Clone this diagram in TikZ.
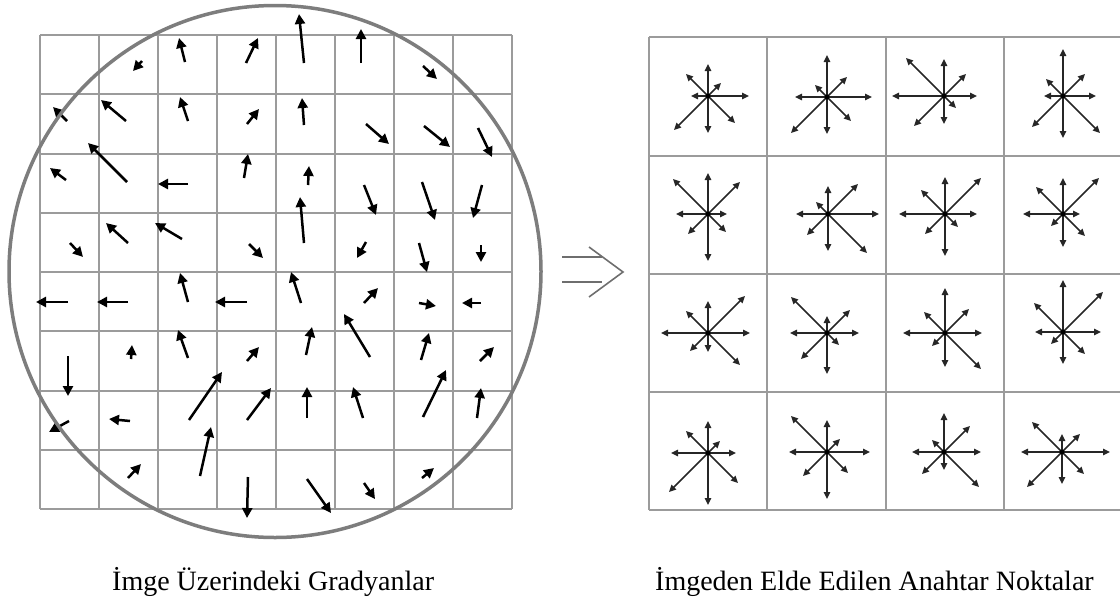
\documentclass[tikz,border=0pt]{standalone}
\usepackage{fontspec}
\setmainfont{Liberation Serif}
\usetikzlibrary{arrows.meta}
\definecolor{gridgray}{RGB}{155,155,155}
\definecolor{circgray}{RGB}{125,125,125}
\definecolor{implgray}{RGB}{110,110,110}
\tikzset{
  gridline/.style={draw=gridgray,line width=2pt},
  circline/.style={draw=circgray,line width=3.5pt},
  grad/.style={draw=black,line width=2.5pt,-{Triangle[length=10pt,width=10pt]}},
  starray/.style={draw=black!85,line width=1.5pt,-{Triangle[length=7pt,width=6.5pt]}},
  impl/.style={draw=implgray,line width=1.6pt},
  caption/.style={font=\fontsize{28}{32}\selectfont,anchor=base west,inner sep=0pt}
}
\newcommand\kpstar[9]{%
  \begin{scope}[shift={#1}]
    \draw[starray] (0,0) -- (#2,0);
    \draw[starray] (0,0) -- (#3,-#3);
    \draw[starray] (0,0) -- (0,-#4);
    \draw[starray] (0,0) -- (-#5,-#5);
    \draw[starray] (0,0) -- (-#6,0);
    \draw[starray] (0,0) -- (-#7,#7);
    \draw[starray] (0,0) -- (0,#8);
    \draw[starray] (0,0) -- (#9,#9);
    \fill[black] (0,0) circle (2.4pt);
  \end{scope}}
\begin{document}
\begin{tikzpicture}[x=1pt,y=-1pt]
\useasboundingbox (0,0) rectangle (1120,603);
% left grid
\foreach \i in {0,...,8}{
  \draw[gridline] ({40+\i*59},35) -- ({40+\i*59},509);
  \draw[gridline] (40,{35+\i*59.25}) -- (512,{35+\i*59.25});
}
% gradient arrows
\foreach \xa/\ya/\xb/\yb in {
 142/61/133/71, 185/62/179/38, 246/63/258/38, 304/63/299/14, 361/63/361/29, 423/66/437/79,
 67/121/53/107, 126/121/101/100, 188/121/180/97, 247/124/259/109, 304/125/302/98, 366/124/389/144, 424/126/450/147, 478/128/492/157,
 66/180/50/168, 127/182/88/143, 188/184/158/184, 244/178/248/154, 308/185/309/166, 364/185/376/215, 422/182/435/220, 482/185/473/218,
 70/243/83/257, 128/243/106/223, 182/239/155/223, 249/244/263/258, 304/243/300/197, 366/242/357/258, 419/243/427/272, 481/245/481/262,
 68/302/36/302, 128/302/97/302, 188/302/180/273, 247/302/215/302, 301/303/291/272, 364/303/378/288, 419/303/436/306, 481/303/462/303,
 68/356/68/396, 131/359/132/345, 188/358/178/330, 247/361/259/347, 306/355/312/327, 370/357/344/314, 421/360/429/333, 480/361/494/347,
 69/421/49/432, 130/421/109/419, 189/420/222/372, 247/420/271/388, 307/418/307/387, 363/418/353/387, 423/417/446/370, 477/418/481/388,
 128/478/141/464, 200/476/211/427, 248/477/247/518, 307/479/331/513, 364/483/375/499, 422/478/434/468}{
  \draw[grad] (\xa,\ya) -- (\xb,\yb);
}
% circle
\draw[circline] (275,271.5) circle (266pt);
% implication arrow
\draw[impl] (562,257) -- (602,257);
\draw[impl] (562,282) -- (602,282);
\draw[impl] (589,247) -- (623,272) -- (589,297);
% right grid
\foreach \xx in {649,767,886,1004,1121}{
  \draw[gridline] (\xx,37) -- (\xx,510);
}
\foreach \yy in {37,156,274,392,510}{
  \draw[gridline] (649,\yy) -- (1121,\yy);
}
% keypoint stars: center, E, NE, N, NW, W, SW, S, SE
\kpstar{(708,96)}{41}{13}{32}{22}{17}{34}{37}{27}
\kpstar{(827,97)}{45}{20}{42}{12}{32}{36}{37}{24}
\kpstar{(944,96)}{33}{22}{37}{38}{52}{30}{28}{12}
\kpstar{(1063,96)}{33}{22}{47}{17}{19}{31}{42}{37}
\kpstar{(708,214)}{19}{32}{41}{35}{32}{20}{47}{18}
\kpstar{(828,214)}{51}{30}{28}{12}{32}{21}{37}{39}
\kpstar{(945,214)}{32}{36}{37}{24}{46}{20}{42}{13}
\kpstar{(1063,214)}{17}{36}{36}{27}{40}{12}{33}{22}
\kpstar{(708,333)}{42}{37}{32}{22}{47}{18}{19}{32}
\kpstar{(827,333)}{32}{23}{17}{36}{37}{26}{41}{12}
\kpstar{(945,333)}{37}{24}{45}{21}{42}{13}{34}{36}
\kpstar{(1063,332)}{38}{40}{52}{29}{28}{12}{32}{22}
\kpstar{(708,453)}{28}{12}{32}{22}{37}{39}{52}{30}
\kpstar{(827,452)}{43}{13}{32}{36}{38}{24}{47}{21}
\kpstar{(944,452)}{37}{26}{39}{12}{32}{22}{18}{35}
\kpstar{(1062,452)}{48}{18}{18}{30}{41}{35}{32}{22}
% captions
\node[caption] (capL) at (112,590) {İmge Üzerindeki Gradyanlar};
\node[caption] (capR) at (655,590) {İmgeden Elde Edilen Anahtar Noktalar};
\end{tikzpicture}
\end{document}
